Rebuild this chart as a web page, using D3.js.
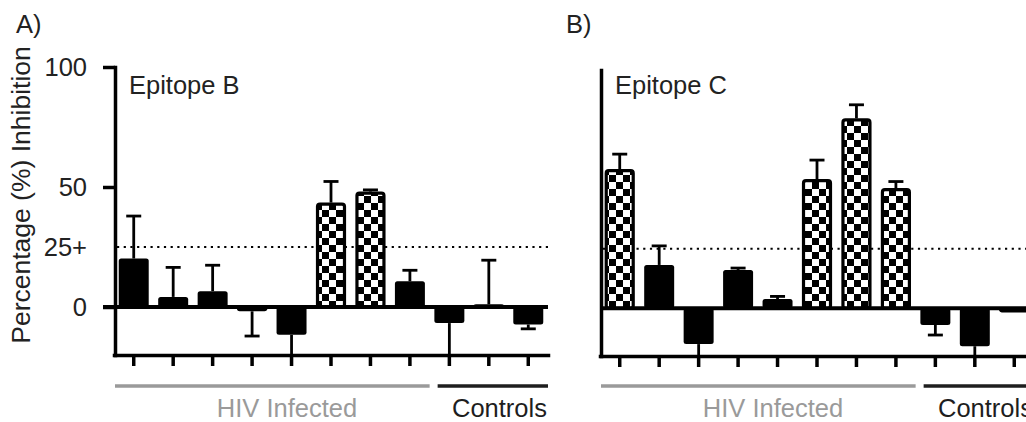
<!DOCTYPE html>
<html>
<head>
<meta charset="utf-8">
<script src="https://cdn.jsdelivr.net/npm/d3@7"></script>
<style>
  html, body { margin: 0; padding: 0; background: #fff; }
  svg { display: block; font-family: "Liberation Sans", Arial, Helvetica, sans-serif; }
</style>
</head>
<body>
<svg id="chart" width="1026" height="422"></svg>
<script>
// ---- data ----
const subjects = ["HIV1", "HIV2", "HIV3", "HIV4", "HIV5", "HIV6", "HIV7", "HIV8", "C1", "C2", "C3"];
const groups = ["HIV Infected", "Controls"];
const groupSizes = [8, 3];

const epitopeB = [20.2, 4.2, 6.6, -1.8, -11.6, 43.5, 48.1, 10.7, -6.7, 1.1, -7.3];
const epitopeBErr = [17.7, 12.3, 10.8, 10.3, 10, 8.8, 0.7, 4.6, 15, 18.4, 1.8];
const epitopeC = [58.4, 18.2, -15, 16.1, 3.9, 54.2, 79.7, 50.4, -7, -15.9, -1.7];
const epitopeCErr = [6.3, 8, 7, 0.8, 1.1, 8, 5.7, 2.8, 4.2, 6, 0];

const yTicks = [0, 50, 100];
const yLabels = [
  { v: 0, t: "0" },
  { v: 25, t: "25+" },
  { v: 50, t: "50" },
  { v: 100, t: "100" }
];
const threshold = 25;

const FONT = 25.5;
const svg = d3.select("#chart");

// checkerboard fill for responders
const cell = 7;
const pat = svg.append("defs").append("pattern")
  .attr("id", "checker")
  .attr("patternUnits", "userSpaceOnUse")
  .attr("width", cell * 2).attr("height", cell * 2);
pat.append("rect").attr("width", cell * 2).attr("height", cell * 2).attr("fill", "#fff");
pat.append("rect").attr("width", cell).attr("height", cell).attr("fill", "#000");
pat.append("rect").attr("x", cell).attr("y", cell).attr("width", cell).attr("height", cell).attr("fill", "#000");

function panel(opts) {
  const { letter, letterX, title, values, errs, x0, top, bottom, showY } = opts;

  const x = d3.scaleBand()
    .domain(subjects)
    .range([x0, x0 + 434])
    .paddingInner(0.24)
    .paddingOuter(0.12);

  const y = d3.scaleLinear()
    .domain([-20, 100])
    .range([bottom, top])
    .clamp(true);

  const g = svg.append("g");

  g.append("text")
    .attr("x", letterX).attr("y", 33)
    .attr("font-size", FONT).attr("fill", "#222")
    .text(letter + ")");

  // threshold dotted line
  g.append("line")
    .attr("x1", x0 + 3).attr("x2", x0 + 434)
    .attr("y1", y(threshold)).attr("y2", y(threshold))
    .attr("stroke", "#000")
    .attr("stroke-width", 2.2)
    .attr("stroke-dasharray", "2.2 4.5");

  const data = subjects.map((s, i) => ({ s, v: values[i], e: errs[i] }));

  // error bars (one sided, away from zero)
  const eb = g.append("g").selectAll("g").data(data.filter(d => d.e > 0)).join("g");
  const tipY = d => y(d.v >= 0 ? d.v + d.e : d.v - d.e);
  eb.append("line")
    .attr("x1", d => x(d.s) + x.bandwidth() / 2)
    .attr("x2", d => x(d.s) + x.bandwidth() / 2)
    .attr("y1", d => y(d.v))
    .attr("y2", tipY)
    .attr("stroke", "#000").attr("stroke-width", 2.8);
  eb.filter(d => (d.v >= 0 ? d.v + d.e : d.v - d.e) > -20)
    .append("line")
    .attr("x1", d => x(d.s) + x.bandwidth() / 2 - 7.5)
    .attr("x2", d => x(d.s) + x.bandwidth() / 2 + 7.5)
    .attr("y1", tipY).attr("y2", tipY)
    .attr("stroke", "#000").attr("stroke-width", 2.8);

  // bars
  g.append("g").selectAll("rect").data(data).join("rect")
    .attr("x", d => x(d.s) + (d.v > threshold ? 1.5 : 0))
    .attr("width", d => x.bandwidth() - (d.v > threshold ? 3 : 0))
    .attr("y", d => y(Math.max(0, d.v)) + (d.v > threshold ? 1.5 : 0))
    .attr("height", d => Math.abs(y(d.v) - y(0)) - (d.v > threshold ? 1.5 : 0))
    .attr("rx", 2.5)
    .attr("fill", d => d.v > threshold ? "url(#checker)" : "#000")
    .attr("stroke", d => d.v > threshold ? "#000" : "none")
    .attr("stroke-width", 3.2);

  // zero line
  g.append("line")
    .attr("x1", showY ? x0 - 11 : x0).attr("x2", x0 + 434)
    .attr("y1", y(0)).attr("y2", y(0))
    .attr("stroke", "#000").attr("stroke-width", 4);

  // y axis
  const yAxis = g.append("g")
    .attr("transform", `translate(${x0 + 1},0)`)
    .call(d3.axisLeft(y)
      .tickValues(showY ? yTicks : [])
      .tickSize(12)
      .tickSizeOuter(0)
      .tickFormat(""));
  yAxis.select(".domain").attr("stroke-width", 3.5).attr("stroke-linecap", "square");
  yAxis.selectAll(".tick line").attr("stroke-width", 3.5);
  if (showY) {
    g.append("g").selectAll("text").data(yLabels).join("text")
      .attr("x", x0 - 27)
      .attr("y", d => y(d.v))
      .attr("dy", "0.35em")
      .attr("text-anchor", "end")
      .attr("font-size", FONT)
      .attr("fill", "#222")
      .text(d => d.t);
  }

  // x axis
  const xAxis = g.append("g")
    .attr("transform", `translate(0,${bottom})`)
    .call(d3.axisBottom(x).tickSize(11).tickSizeOuter(0).tickFormat(""));
  xAxis.select(".domain").attr("stroke-width", 3.5).attr("stroke-linecap", "square");
  xAxis.selectAll(".tick line").attr("stroke-width", 3.5);

  g.append("text")
    .attr("x", x0 + 15).attr("y", 94)
    .attr("font-size", FONT).attr("fill", "#222")
    .text(title);

  // group brackets
  let start = 0;
  groups.forEach((grp, gi) => {
    const first = subjects[start];
    const last = subjects[start + groupSizes[gi] - 1];
    const gx1 = gi === 0 ? x0 + 1 : x(first) - x.step() * x.paddingInner() / 2 + 8;
    const gx2 = gi === 0 ? x(last) + x.bandwidth() + x.step() * x.paddingInner() / 2 : x0 + 434;
    const col = gi === 0 ? "#9a9a9a" : "#1e1e1e";
    g.append("line")
      .attr("x1", gx1).attr("x2", gx2)
      .attr("y1", 386).attr("y2", 386)
      .attr("stroke", col).attr("stroke-width", 3.5);
    const tx = gi === 0 ? x0 + 173 : x0 + 338;
    g.append("text")
      .attr("x", tx).attr("y", 417)
      .attr("text-anchor", gi === 0 ? "middle" : "start")
      .attr("font-size", FONT).attr("fill", gi === 0 ? "#9a9a9a" : "#1e1e1e")
      .text(grp);
    start += groupSizes[gi];
  });
}

panel({ letter: "A", letterX: 16, title: "Epitope B", values: epitopeB, errs: epitopeBErr,
        x0: 114, top: 67, bottom: 355, showY: true });
panel({ letter: "B", letterX: 566, title: "Epitope C", values: epitopeC, errs: epitopeCErr,
        x0: 600, top: 70, bottom: 356, showY: false });

// y axis title
svg.append("text")
  .attr("transform", "translate(30,195) rotate(-90)")
  .attr("text-anchor", "middle")
  .attr("font-size", 26.5).attr("fill", "#222")
  .text("Percentage (%) Inhibition");
</script>
</body>
</html>
